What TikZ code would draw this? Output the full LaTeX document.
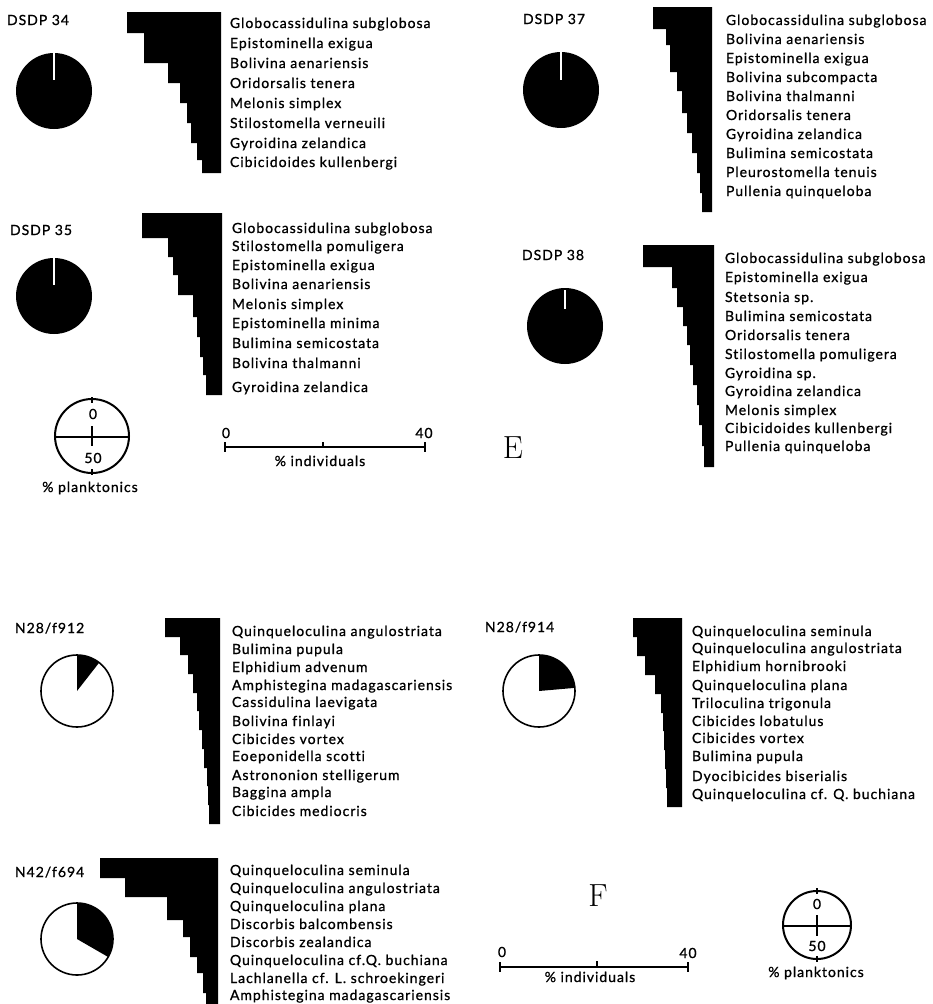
\documentclass[tikz,border=0pt]{standalone}
\usepackage{fontspec}
\newfontfamily\futura[LetterSpace=7,FakeBold=0.9,Ligatures=NoCommon]{Lato}
\begin{document}
\begin{tikzpicture}[x=1.00pt, y=-1.00pt, inner xsep=0pt, inner ysep=0pt, outer xsep=0pt, outer ysep=0pt,
  taxon/.style={anchor=base west, font=\futura\fontsize{14}{16.8}\selectfont},
  site/.style={anchor=base west, font=\futura\fontsize{14}{16.8}\selectfont},
  num/.style={anchor=center, font=\futura\fontsize{14}{16.8}\selectfont},
  panel/.style={anchor=center, font=\fontsize{32}{38}\selectfont}]
\path[line width=0pt] (0,0) rectangle (933,1004);
\definecolor{L}{rgb}{0,0,0}
\definecolor{F}{rgb}{0,0,0}
% DSDP 34
\draw(7,25) node[site](site34){DSDP 34};
\path[fill=F] (54,91) circle (38pt);
\path[line width=1.50pt, draw=white] (54,53) -- (54,80);
\path[fill=F] (221,12) -- (127,12) |- (144,33) |- (168,63) |- (180,83) |- (187,103) |- (191,123) |- (197,143) |- (202,160) |- (221,173) -- cycle;
\draw(230,28) node[taxon](t34a){Globocassidulina subglobosa};
\draw(230,48) node[taxon](t34b){Epistominella exigua};
\draw(230,68) node[taxon](t34c){Bolivina aenariensis};
\draw(230,88) node[taxon](t34d){Oridorsalis tenera};
\draw(230,108) node[taxon](t34e){Melonis simplex};
\draw(230,128) node[taxon](t34f){Stilostomella verneuili};
\draw(230,148) node[taxon](t34g){Gyroidina zelandica};
\draw(230,167) node[taxon](t34h){Cibicidoides kullenbergi};
% DSDP 35
\draw(10,235) node[site](site35){DSDP 35};
\path[fill=F] (54,296) circle (38pt);
\path[line width=1.50pt, draw=white] (54,258) -- (54,285);
\path[fill=F] (222,213) -- (142,213) |- (168,238) |- (173,257) |- (178,275) |- (193,295) |- (197,317) |- (200,337) |- (203,357) |- (206,375) |- (222,395) -- cycle;
\draw(232,233) node[taxon](t35a){Globocassidulina subglobosa};
\draw(232,251) node[taxon](t35b){Stilostomella pomuligera};
\draw(232,270) node[taxon](t35c){Epistominella exigua};
\draw(232,289) node[taxon](t35d){Bolivina aenariensis};
\draw(232,309) node[taxon](t35e){Melonis simplex};
\draw(232,328) node[taxon](t35f){Epistominella minima};
\draw(232,348) node[taxon](t35g){Bulimina semicostata};
\draw(232,368) node[taxon](t35h){Bolivina thalmanni};
\draw(232,392) node[taxon](t35i){Gyroidina zelandica};
% key E
\path[line width=2.00pt, draw=L] (92,436) circle (37pt);
\path[line width=2.00pt, draw=L] (55,437) -- (129,437);
\path[line width=2.00pt, draw=L] (92,426) -- (92,446);
\path[line width=2.00pt, draw=L] (92,397) -- (92,403);
\path[line width=2.00pt, draw=L] (92,469) -- (92,475);
\draw(93,414) node[num](k0){0};
\draw(93,458) node[num](k50){50};
\draw(90,492) node[anchor=base, font=\futura\fontsize{14}{16.8}\selectfont](kplank){\% planktonics};
\path[line width=2.00pt, draw=L] (225,447) -- (425,447);
\path[line width=2.00pt, draw=L] (225,442) -- (225,452);
\path[line width=2.00pt, draw=L] (425,442) -- (425,452);
\path[line width=2.00pt, draw=L] (323,442) -- (323,447);
\draw(226,433) node[num](s0){0};
\draw(424,433) node[num](s40){40};
\draw(320,466) node[anchor=base, font=\futura\fontsize{14}{16.8}\selectfont](sind){\% individuals};
\draw(513,448) node[panel](pE){E};
% DSDP 37
\draw(523,24) node[site](site37){DSDP 37};
\path[fill=F] (561,90) circle (38pt);
\path[line width=1.50pt, draw=white] (561,52) -- (561,80);
\path[fill=F] (712,7) -- (653,7) |- (666,29) |- (670,45) |- (677,72) |- (682,91) |- (687,113) |- (692,133) |- (697,153) |- (700,173) |- (702,193) |- (712,212) -- cycle;
\draw(726,25) node[taxon](t37a){Globocassidulina subglobosa};
\draw(726,44) node[taxon](t37b){Bolivina aenariensis};
\draw(726,63) node[taxon](t37c){Epistominella exigua};
\draw(726,82) node[taxon](t37d){Bolivina subcompacta};
\draw(726,101) node[taxon](t37e){Bolivina thalmanni};
\draw(726,120) node[taxon](t37f){Oridorsalis tenera};
\draw(726,139) node[taxon](t37g){Gyroidina zelandica};
\draw(726,158) node[taxon](t37h){Bulimina semicostata};
\draw(726,177) node[taxon](t37i){Pleurostomella tenuis};
\draw(726,196) node[taxon](t37j){Pullenia quinqueloba};
% DSDP 38
\draw(522,260) node[site](site38){DSDP 38};
\path[fill=F] (565,326) circle (38pt);
\path[line width=1.50pt, draw=white] (565,290) -- (565,309);
\path[fill=F] (714,245) -- (643,245) |- (672,267) |- (677,288) |- (683,307) |- (687,326) |- (690,345) |- (693,365) |- (697,385) |- (699,405) |- (702,425) |- (704,446) |- (714,467) -- cycle;
\draw(725,263) node[taxon](t38a){Globocassidulina subglobosa};
\draw(725,282) node[taxon](t38b){Epistominella exigua};
\draw(725,302) node[taxon](t38c){Stetsonia sp.};
\draw(725,321) node[taxon](t38d){Bulimina semicostata};
\draw(725,340) node[taxon](t38e){Oridorsalis tenera};
\draw(725,359) node[taxon](t38f){Stilostomella pomuligera};
\draw(725,378) node[taxon](t38g){Gyroidina sp.};
\draw(725,396) node[taxon](t38h){Gyroidina zelandica};
\draw(725,415) node[taxon](t38i){Melonis simplex};
\draw(725,433) node[taxon](t38j){Cibicidoides kullenbergi};
\draw(725,451) node[taxon](t38k){Pullenia quinqueloba};
% N28/f912
\draw(15,633) node[site](site912){N28/f912};
\path[line width=1.60pt, draw=L] (77,691) circle (36pt);
\path[fill=F] (77,691) -- ++(90:36pt) arc[start angle=90, end angle=52, radius=36pt] -- cycle;
\path[fill=F] (220,618) -- (165,618) |- (180,637) |- (188,655) |- (193,674) |- (197,693) |- (199,711) |- (202,730) |- (204,749) |- (207,768) |- (208,786) |- (209,805) |- (220,824) -- cycle;
\draw(232,636) node[taxon](t912a){Quinqueloculina angulostriata};
\draw(232,654) node[taxon](t912b){Bulimina pupula};
\draw(232,672) node[taxon](t912c){Elphidium advenum};
\draw(232,690) node[taxon](t912d){Amphistegina madagascariensis};
\draw(232,707) node[taxon](t912e){Cassidulina laevigata};
\draw(232,726) node[taxon](t912f){Bolivina finlayi};
\draw(232,744) node[taxon](t912g){Cibicides vortex};
\draw(232,761) node[taxon](t912h){Eoeponidella scotti};
\draw(232,780) node[taxon](t912i){Astrononion stelligerum};
\draw(232,797) node[taxon](t912j){Baggina ampla};
\draw(232,816) node[taxon](t912k){Cibicides mediocris};
% N28/f914
\draw(485,632) node[site](site914){N28/f914};
\path[line width=1.60pt, draw=L] (539,691) circle (36pt);
\path[fill=F] (539,691) -- ++(90:36pt) arc[start angle=90, end angle=5, radius=36pt] -- cycle;
\path[fill=F] (682,618) -- (633,618) |- (637,637) |- (645,656) |- (655,675) |- (661,694) |- (663,713) |- (664,731) |- (665,750) |- (666,769) |- (667,788) |- (682,807) -- cycle;
\draw(692,636) node[taxon](t914a){Quinqueloculina seminula};
\draw(692,653) node[taxon](t914b){Quinqueloculina angulostriata};
\draw(692,671) node[taxon](t914c){Elphidium hornibrooki};
\draw(692,690) node[taxon](t914d){Quinqueloculina plana};
\draw(692,708) node[taxon](t914e){Triloculina trigonula};
\draw(692,726) node[taxon](t914f){Cibicides lobatulus};
\draw(692,743) node[taxon](t914g){Cibicides vortex};
\draw(692,761) node[taxon](t914h){Bulimina pupula};
\draw(692,781) node[taxon](t914i){Dyocibicides biserialis};
\draw(692,799) node[taxon](t914j){Quinqueloculina cf. Q. buchiana};
% N42/f694
\draw(15,877) node[site](site694){N42/f694};
\path[line width=1.60pt, draw=L] (77,939) circle (36pt);
\path[fill=F] (77,939) -- ++(90:36pt) arc[start angle=90, end angle=-30, radius=36pt] -- cycle;
\path[fill=F] (218,858) -- (100,858) |- (125,878) |- (167,897) |- (183,920) |- (190,937) |- (197,957) |- (203,973) |- (206,993) |- (218,1004) -- cycle;
\draw(230,875) node[taxon](t694a){Quinqueloculina seminula};
\draw(230,893) node[taxon](t694b){Quinqueloculina angulostriata};
\draw(230,911) node[taxon](t694c){Quinqueloculina plana};
\draw(230,929) node[taxon](t694d){Discorbis balcombensis};
\draw(230,947) node[taxon](t694e){Discorbis zealandica};
\draw(230,965) node[taxon](t694f){Quinqueloculina cf.Q. buchiana};
\draw(230,983) node[taxon](t694g){Lachlanella cf. L. schroekingeri};
\draw(230,1000) node[taxon](t694h){Amphistegina madagascariensis};
% key F
\draw(598,896) node[panel](pF){F};
\path[line width=2.00pt, draw=L] (500,967) -- (688,967);
\path[line width=2.00pt, draw=L] (500,962) -- (500,972);
\path[line width=2.00pt, draw=L] (688,962) -- (688,972);
\path[line width=2.00pt, draw=L] (597,961) -- (597,967);
\draw(502,952) node[num](f0){0};
\draw(688,953) node[num](f40){40};
\draw(590,982) node[anchor=base, font=\futura\fontsize{14}{16.8}\selectfont](find){\% individuals};
\path[line width=2.00pt, draw=L] (817,925) circle (34pt);
\path[line width=2.00pt, draw=L] (783,926) -- (851,926);
\path[line width=2.00pt, draw=L] (817,915) -- (817,936);
\path[line width=2.00pt, draw=L] (817,888) -- (817,894);
\path[line width=2.00pt, draw=L] (817,956) -- (817,962);
\draw(817,904) node[num](fk0){0};
\draw(817,946) node[num](fk50){50};
\draw(816,977) node[anchor=base, font=\futura\fontsize{14}{16.8}\selectfont](fplank){\% planktonics};
\end{tikzpicture}
\end{document}
